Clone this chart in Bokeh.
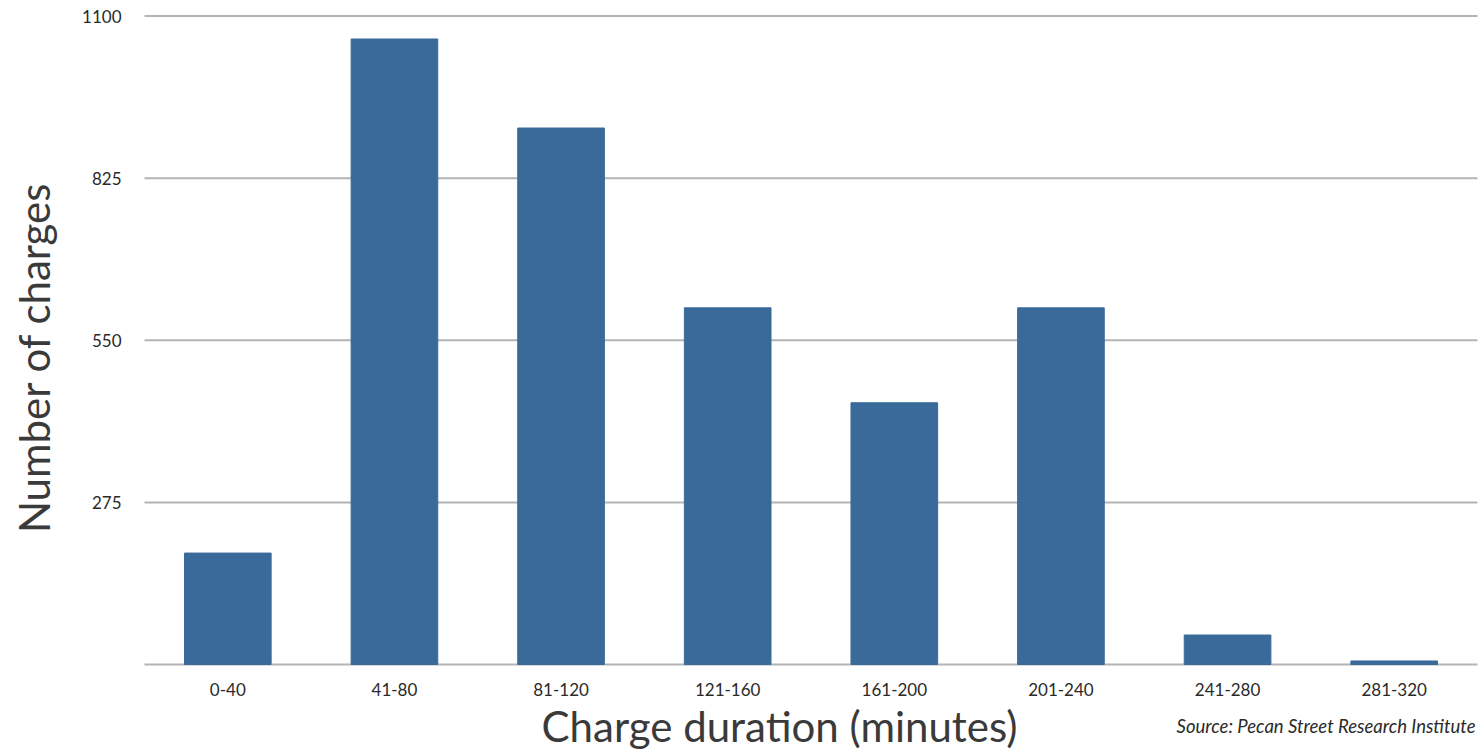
import math
from bokeh.plotting import figure
from bokeh.models import Range1d, FixedTicker, Label, ColumnDataSource
from bokeh.embed import file_html
from bokeh.resources import INLINE

# Charge-duration histogram data
durations = ["0-40", "41-80", "81-120", "121-160", "161-200", "201-240", "241-280", "281-320"]
charges = [189, 1061, 910, 605, 444, 605, 50, 6]
y_ticks = [0, 275, 550, 825, 1100]

BAR_COLOR = "#3a6a9a"
GRID_COLOR = "#b4b4b4"
TEXT_COLOR = "#2a2a2a"
TITLE_COLOR = "#3a3a3a"
TITLE_FONT = "Lato"
TICK_FONT = "Lato"

W, H = 1481, 755
# plot area geometry in pixels: left/right edge of the bar band, y of the 0 and top lines
AREA_LEFT, AREA_RIGHT = 144, 1477
Y0_PX, YTOP_PX = 664, 15.5

n = len(durations)
x_pos = list(range(n))
px_per_cat = (AREA_RIGHT - AREA_LEFT) / n
px_per_unit = (Y0_PX - YTOP_PX) / y_ticks[-1]


def px_to_x(px):
    return -0.5 + (px - AREA_LEFT) / px_per_cat


def px_to_y(py):
    return (Y0_PX - py) / px_per_unit


src = ColumnDataSource(data=dict(x=x_pos, count=charges, duration=durations))

p = figure(
    x_range=Range1d(px_to_x(0), px_to_x(W)),
    y_range=Range1d(px_to_y(H), px_to_y(0)),
    width=W,
    height=H,
    output_backend="svg",
    toolbar_location=None,
    min_border=0,
)
p.outline_line_color = None
p.background_fill_color = "white"
p.border_fill_color = "white"
p.xgrid.grid_line_color = None
p.ygrid.grid_line_color = None

# horizontal gridlines across the bar band
p.segment(x0=[-0.5] * len(y_ticks), x1=[n - 0.5] * len(y_ticks),
          y0=y_ticks, y1=y_ticks, line_color=GRID_COLOR, line_width=2)

p.vbar(x="x", top="count", width=0.52, source=src,
       fill_color=BAR_COLOR, line_color=BAR_COLOR, line_width=1)

# y axis pinned to the left edge of the bar band; no label at zero
p.yaxis.fixed_location = -0.5
p.yaxis.ticker = FixedTicker(ticks=y_ticks)
p.yaxis.major_label_overrides = {0: ""}
p.yaxis.axis_line_color = None
p.yaxis.major_tick_line_color = None
p.yaxis.minor_tick_line_color = None
p.yaxis.major_label_standoff = 17
p.yaxis.major_label_text_font = TICK_FONT
p.yaxis.major_label_text_font_size = "17px"
p.yaxis.major_label_text_color = TEXT_COLOR

# x axis pinned to zero, with the duration bins as tick labels
p.xaxis.fixed_location = 0
p.xaxis.ticker = FixedTicker(ticks=x_pos)
p.xaxis.major_label_overrides = {i: d for i, d in zip(x_pos, durations)}
p.xaxis.axis_line_color = None
p.xaxis.major_tick_line_color = None
p.xaxis.minor_tick_line_color = None
p.xaxis.major_label_standoff = 12
p.xaxis.major_label_text_font = TICK_FONT
p.xaxis.major_label_text_font_size = "17px"
p.xaxis.major_label_text_color = TEXT_COLOR

# axis titles and source note
p.add_layout(Label(x=px_to_x(779), y=px_to_y(725),
                   text="Charge duration (minutes)",
                   text_align="center", text_baseline="middle",
                   text_font=TITLE_FONT, text_font_size="42px", text_color=TITLE_COLOR))
p.add_layout(Label(x=px_to_x(33), y=px_to_y(357),
                   text="Number of charges", angle=math.pi / 2,
                   text_align="center", text_baseline="middle",
                   text_font=TITLE_FONT, text_font_size="42px", text_color=TITLE_COLOR))
p.add_layout(Label(x=px_to_x(1475), y=px_to_y(725),
                   text="Source: Pecan Street Research Institute",
                   text_align="right", text_baseline="middle",
                   text_font=TITLE_FONT, text_font_style="italic",
                   text_font_size="18.5px", text_color=TEXT_COLOR))

open("out.html", "w").write(file_html(p, INLINE))
